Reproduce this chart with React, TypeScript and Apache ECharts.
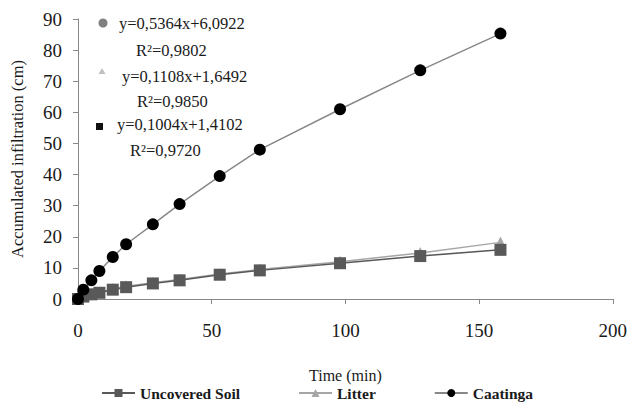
import React, { useEffect, useRef } from "react";
import * as echarts from "echarts";

const times = [0, 2, 5, 8, 13, 18, 28, 38, 53, 68, 98, 128, 158];
const uncoveredSoil = [0, 0.8, 1.5, 2, 3, 3.8, 5, 6, 7.8, 9.2, 11.5, 13.8, 15.8];
const litter = [0, 0.9, 1.6, 2.2, 3.2, 4.1, 5.2, 6.3, 8, 9.5, 12, 14.8, 18.2];
const caatinga = [0, 3, 6, 9, 13.5, 17.6, 24, 30.5, 39.5, 48, 61, 73.5, 85.3];
const seriesNames = ["Uncovered Soil", "Litter", "Caatinga"];
const equations = [
  "y=0,5364x+6,0922",
  "R²=0,9802",
  "y=0,1108x+1,6492",
  "R²=0,9850",
  "y=0,1004x+1,4102",
  "R²=0,9720",
];

const FONT = "Liberation Serif";

export default function App() {
  const ref = useRef<HTMLDivElement>(null);
  useEffect(() => {
    document.body.style.margin = "0";
    const chart = echarts.init(ref.current!, null, { renderer: "svg" });
    const pair = (ys: number[]) => times.map((t, i) => [t, ys[i]]);
    const txt = (x: number, y: number, s: string) => ({
      type: "text",
      left: x,
      top: y,
      style: { text: s, font: `16.5px "${FONT}"`, fill: "#1a1a1a" },
    });
    chart.setOption({
      animation: false,
      textStyle: { fontFamily: FONT },
      grid: { left: 78, right: 12, top: 19, bottom: 115 },
      xAxis: {
        type: "value",
        min: 0,
        max: 200,
        interval: 50,
        name: "Time (min)",
        nameLocation: "middle",
        nameGap: 68,
        nameTextStyle: { fontSize: 16, color: "#1a1a1a", fontFamily: FONT },
        axisLine: { lineStyle: { color: "#888" } },
        axisTick: { lineStyle: { color: "#888" }, length: 5 },
        axisLabel: { fontSize: 19, color: "#1a1a1a", margin: 22, fontFamily: FONT },
        splitLine: { show: false },
      },
      yAxis: {
        type: "value",
        min: 0,
        max: 90,
        interval: 10,
        name: "Accumulated infiltration (cm)",
        nameLocation: "middle",
        nameGap: 52,
        nameTextStyle: { fontSize: 16.5, color: "#1a1a1a", fontFamily: FONT },
        axisLine: { show: true, lineStyle: { color: "#888" } },
        axisTick: { show: true, lineStyle: { color: "#888" }, length: 5 },
        axisLabel: { fontSize: 19, color: "#1a1a1a", margin: 16, fontFamily: FONT },
        splitLine: { show: false },
      },
      legend: {
        bottom: 8,
        left: 96,
        itemGap: 58,
        itemWidth: 33,
        itemHeight: 10,
        textStyle: { fontSize: 15.5, fontWeight: "bold", color: "#1a1a1a", fontFamily: FONT },
        data: seriesNames,
      },
      series: [
        {
          name: seriesNames[0],
          type: "line",
          data: pair(uncoveredSoil),
          symbol: "rect",
          symbolSize: 12,
          itemStyle: { color: "#595959" },
          lineStyle: { color: "#595959", width: 1.5 },
          z: 3,
        },
        {
          name: seriesNames[1],
          type: "line",
          data: pair(litter),
          symbol: "triangle",
          symbolSize: 12,
          itemStyle: { color: "#a6a6a6" },
          lineStyle: { color: "#a6a6a6", width: 1.5 },
          z: 2,
        },
        {
          name: seriesNames[2],
          type: "line",
          data: pair(caatinga),
          symbol: "circle",
          symbolSize: 12,
          itemStyle: { color: "#000" },
          lineStyle: { color: "#888", width: 1.5 },
          z: 4,
        },
      ],
      graphic: [
        { type: "circle", shape: { cx: 103, cy: 23, r: 4.5 }, style: { fill: "#808080" } },
        { type: "polygon", shape: { points: [[102, 68], [98.5, 74], [105.5, 74]] }, style: { fill: "#c0c0c0" } },
        { type: "rect", shape: { x: 96, y: 123, width: 7, height: 7 }, style: { fill: "#111" } },
        txt(119, 15, equations[0]),
        txt(136, 42, equations[1]),
        txt(122, 68, equations[2]),
        txt(137, 93, equations[3]),
        txt(117, 116, equations[4]),
        txt(130, 142, equations[5]),
      ],
    });
    return () => chart.dispose();
  }, []);
  return <div ref={ref} style={{ width: 630, height: 414 }} />;
}
